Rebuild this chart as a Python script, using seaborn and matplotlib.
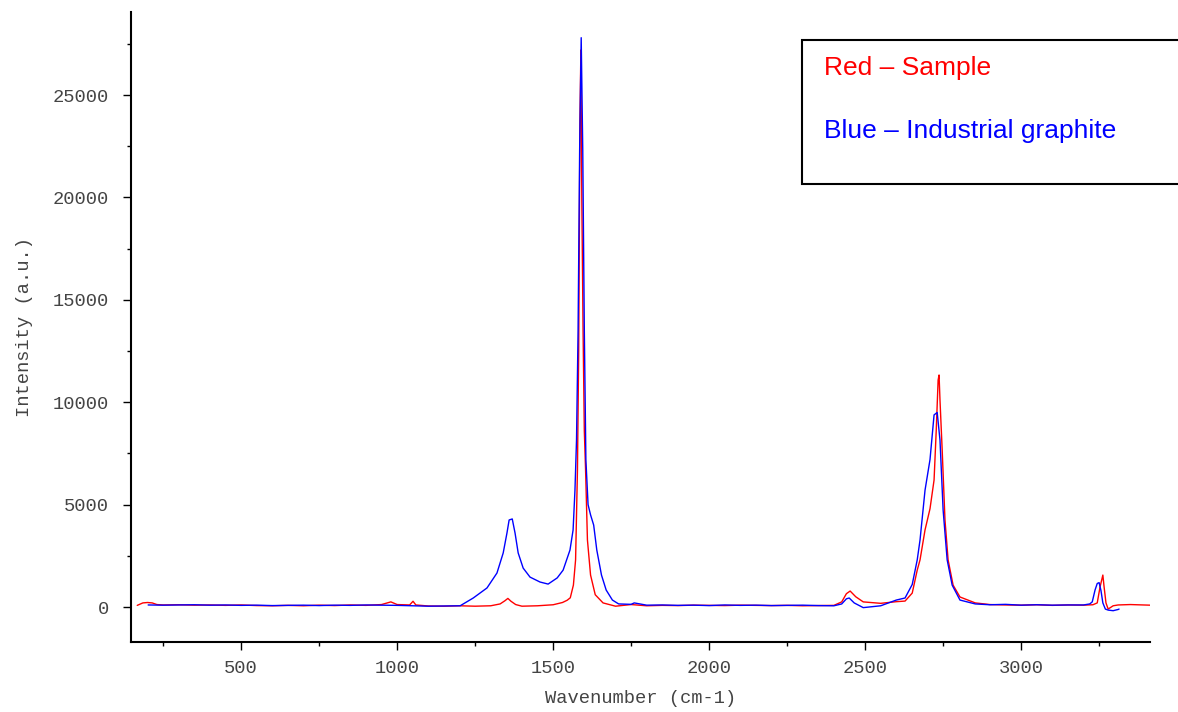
import matplotlib
matplotlib.use("Agg")
import matplotlib.pyplot as plt
import matplotlib.patches as mpatches
from matplotlib.ticker import MultipleLocator
import pandas as pd
import seaborn as sns

# Raman spectra (wavenumber cm-1, intensity a.u.)
red_wn = [167, 185, 200, 215, 230, 250, 300, 350, 400, 450, 500, 550, 600, 650, 700, 750,
          800, 850, 900, 950, 980, 1000, 1040, 1051, 1060, 1100, 1150, 1200, 1250, 1300,
          1330, 1345, 1355, 1365, 1380, 1400, 1450, 1500, 1530, 1545, 1555, 1565, 1572,
          1578, 1582, 1586, 1589, 1592, 1596, 1600, 1604, 1610, 1620, 1635, 1660, 1700,
          1750, 1800, 1850, 1900, 1950, 2000, 2050, 2100, 2150, 2200, 2250, 2300, 2350,
          2400, 2425, 2440, 2452, 2470, 2494, 2550, 2600, 2628, 2651, 2667, 2676, 2692,
          2708, 2721, 2728, 2734, 2737, 2740, 2747, 2756, 2766, 2782, 2804, 2853, 2900,
          2950, 3000, 3050, 3100, 3150, 3200, 3230, 3244, 3253, 3262, 3266, 3272, 3279,
          3295, 3311, 3350, 3413]
red_int = [80, 200, 220, 200, 120, 100, 110, 90, 100, 80, 100, 70, 60, 80, 60, 90,
           70, 100, 80, 120, 250, 120, 100, 280, 100, 50, 40, 60, 40, 60,
           150, 300, 420, 280, 120, 40, 60, 110, 220, 330, 450, 1070, 2300,
           6700, 12500, 23800, 27200, 19900, 13500, 8600, 6700, 3270, 1560, 600, 200, 40,
           120, 60, 80, 70, 90, 80, 70, 90, 80, 70, 80, 60, 70,
           80, 250, 650, 780, 500, 250, 180, 260, 290, 680, 1800, 2300, 3760,
           4800, 6200, 8640, 11080, 11330, 10100, 7670, 4250, 2300, 1070, 490, 200, 120,
           100, 90, 110, 80, 100, 90, 110, 200, 980, 1560, 980, 200, -100,
           60, 100, 120, 90]

blue_wn = [202, 250, 300, 350, 400, 450, 500, 550, 600, 650, 700, 750, 800, 850, 900,
           950, 1000, 1050, 1100, 1150, 1202, 1244, 1288, 1320, 1340, 1352, 1359, 1369,
           1378, 1388, 1404, 1426, 1458, 1484, 1513, 1532, 1554, 1564, 1570, 1575, 1580,
           1585, 1590, 1595, 1600, 1605, 1612, 1620, 1630, 1640, 1655, 1670, 1690, 1710,
           1750, 1760, 1800, 1850, 1900, 1950, 2000, 2050, 2100, 2150, 2200, 2250, 2300,
           2350, 2400, 2425, 2440, 2449, 2465, 2494, 2550, 2600, 2628, 2644, 2651, 2667,
           2676, 2692, 2708, 2721, 2731, 2740, 2750, 2763, 2779, 2804, 2853, 2900, 2950,
           3000, 3050, 3100, 3150, 3200, 3220, 3228, 3237, 3244, 3250, 3256, 3262, 3270,
           3279, 3295, 3311, 3314]
blue_int = [100, 90, 100, 110, 90, 100, 80, 90, 70, 80, 90, 70, 90, 80, 100,
            90, 80, 60, 40, 50, 60, 440, 930, 1660, 2640, 3610, 4250, 4300,
            3610, 2640, 1900, 1460, 1220, 1120, 1420, 1800, 2780, 3760, 5700, 8150, 13500,
            22300, 27800, 22300, 13500, 7200, 5000, 4500, 4000, 2780, 1560, 830, 340, 150,
            130, 200, 90, 100, 80, 90, 70, 100, 80, 90, 70, 80, 90,
            70, 60, 150, 400, 440, 200, -30, 60, 340, 440, 900, 1100, 2300,
            3270, 5700, 7200, 9380, 9500, 8150, 4740, 2300, 1070, 340, 150, 110, 130,
            90, 110, 90, 100, 100, 150, 250, 830, 1150, 1190, 800, 200, -100,
            -150, -180, -120, -100]

red_df = pd.DataFrame({"wn": red_wn, "intensity": red_int})
blue_df = pd.DataFrame({"wn": blue_wn, "intensity": blue_int})

sns.set_style("ticks")
plt.rcParams["font.family"] = ["Liberation Mono", "DejaVu Sans Mono"]

fig = plt.figure(figsize=(11.78, 7.12), dpi=100)
ax = fig.add_axes([0.1112, 0.0983, 0.865, 0.8848])

sns.lineplot(data=red_df, x="wn", y="intensity", color="#ff0000", linewidth=1.0,
             estimator=None, sort=False, ax=ax)
sns.lineplot(data=blue_df, x="wn", y="intensity", color="#0000ff", linewidth=1.0,
             estimator=None, sort=False, ax=ax)

ax.set_xlim(147, 3413)
ax.set_ylim(-1709, 29053)
ax.xaxis.set_major_locator(MultipleLocator(500))
ax.xaxis.set_minor_locator(MultipleLocator(250))
ax.yaxis.set_major_locator(MultipleLocator(5000))
ax.yaxis.set_minor_locator(MultipleLocator(2500))

sns.despine(ax=ax)
for s in ["left", "bottom"]:
    ax.spines[s].set_linewidth(1.5)
    ax.spines[s].set_color("black")

ax.tick_params(axis="both", which="major", length=6, width=1, colors="black",
               labelcolor="#444444", labelsize=13.5)
ax.tick_params(axis="both", which="minor", length=3, width=1, colors="black")
ax.tick_params(axis="x", which="major", pad=7)
ax.tick_params(axis="y", which="major", pad=10)

ax.set_xlabel("Wavenumber (cm-1)", fontsize=13.5, color="#444444", labelpad=9)
ax.set_ylabel("Intensity (a.u.)", fontsize=13.5, color="#444444", labelpad=14)

# legend-like text box in the top right corner
box = mpatches.Rectangle((802 / 1178, 1 - 184 / 712), 0.35, 144 / 712,
                         transform=fig.transFigure, facecolor="white",
                         edgecolor="black", linewidth=1.5, clip_on=False)
fig.patches.append(box)
fig.text(824 / 1178, 1 - 68 / 712, "Red – Sample", color="#ff0000", fontsize=19,
         family="Liberation Sans", va="center", ha="left")
fig.text(824 / 1178, 1 - 131 / 712, "Blue – Industrial graphite", color="#0000ff",
         fontsize=19, family="Liberation Sans", va="center", ha="left")

fig.savefig("out.png", dpi=100, facecolor="white")
